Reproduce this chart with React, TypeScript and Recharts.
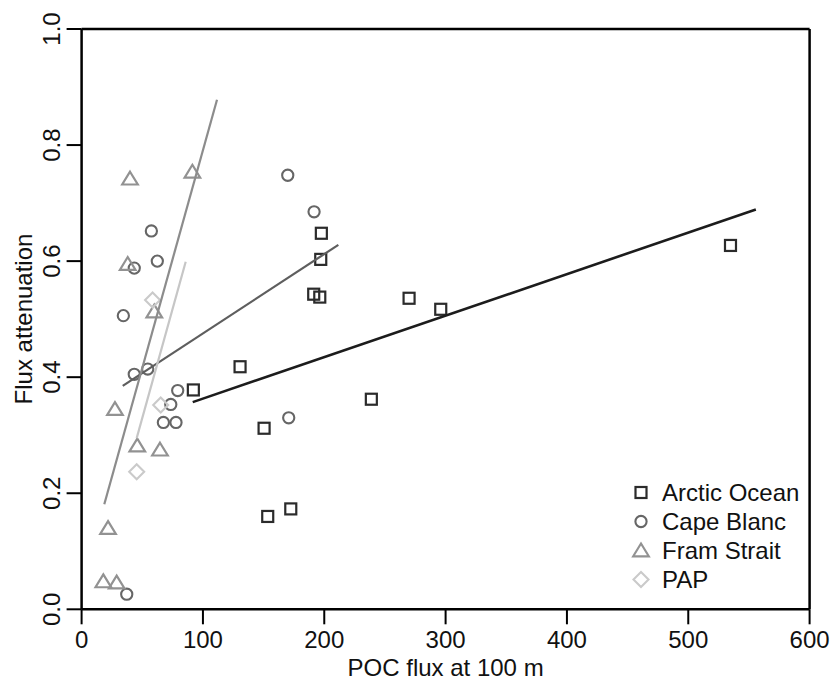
import React from 'react';
import { ScatterChart, Scatter, XAxis, YAxis, ReferenceLine } from 'recharts';

// values
const arcticX = [92.1, 130.6, 150.4, 153.4, 172.4, 197.6, 197.1, 191.3, 196.3, 238.8, 269.9, 296.0, 534.8];
const arcticY = [0.378, 0.418, 0.312, 0.160, 0.173, 0.648, 0.603, 0.543, 0.538, 0.362, 0.536, 0.517, 0.627];

const capeX = [34.4, 43.4, 57.5, 62.4, 43.4, 54.5, 79.2, 73.5, 67.4, 77.8, 170.7, 169.9, 191.6, 37.2];
const capeY = [0.506, 0.588, 0.652, 0.600, 0.405, 0.414, 0.377, 0.353, 0.322, 0.322, 0.330, 0.748, 0.685, 0.026];

const framX = [39.9, 91.3, 38.0, 59.9, 27.5, 45.9, 64.6, 21.8, 17.9, 28.9];
const framY = [0.742, 0.754, 0.595, 0.513, 0.345, 0.282, 0.275, 0.140, 0.048, 0.046];

const papX = [58.5, 65.2, 45.4];
const papY = [0.533, 0.352, 0.237];

// fitted line end points
const arcticFitX = [91.6, 555.7];
const arcticFitY = [0.357, 0.689];
const capeFitX = [33.9, 211.6];
const capeFitY = [0.385, 0.628];
const framFitX = [18.7, 111.6];
const framFitY = [0.181, 0.878];
const papFitX = [45.4, 85.8];
const papFitY = [0.295, 0.599];

const xTicks = [0, 100, 200, 300, 400, 500, 600];
const yTicks = [0, 0.2, 0.4, 0.6, 0.8, 1.0];

const FONT = '"Liberation Sans", Arial, sans-serif';
const toPts = (xs: number[], ys: number[]) => xs.map((x, i) => ({ x, y: ys[i] }));

const C_ARCTIC = '#2b2b2b';
const C_CAPE = '#666666';
const C_FRAM = '#929292';
const C_PAP = '#cacaca';

const Square = ({ cx, cy, color }: any) => (
  <rect x={cx - 5.5} y={cy - 5.5} width={11} height={11} fill="none" stroke={color} strokeWidth={2.2} />
);
const Circ = ({ cx, cy, color }: any) => (
  <circle cx={cx} cy={cy} r={5.6} fill="none" stroke={color} strokeWidth={2.1} />
);
const Tri = ({ cx, cy, color }: any) => (
  <polygon points={`${cx},${cy - 7} ${cx + 7.8},${cy + 5.8} ${cx - 7.8},${cy + 5.8}`} fill="none" stroke={color} strokeWidth={2.2} />
);
const Diam = ({ cx, cy, color }: any) => (
  <polygon points={`${cx},${cy - 7.5} ${cx + 7.5},${cy} ${cx},${cy + 7.5} ${cx - 7.5},${cy}`} fill="none" stroke={color} strokeWidth={2.1} />
);

const series = [
  { name: 'Arctic Ocean', color: C_ARCTIC, Shape: Square },
  { name: 'Cape Blanc', color: C_CAPE, Shape: Circ },
  { name: 'Fram Strait', color: C_FRAM, Shape: Tri },
  { name: 'PAP', color: C_PAP, Shape: Diam },
];

const XTick = (props: any) => {
  const { x, y, payload } = props;
  return (
    <text x={x} y={y} dy={21.7} textAnchor="middle" fontSize={24} fontFamily={FONT} fill="#111">
      {payload.value}
    </text>
  );
};

const YTick = (props: any) => {
  const { x, y, payload } = props;
  const px = x - 5;
  return (
    <text x={px} y={y} transform={`rotate(-90 ${px} ${y})`} textAnchor="middle" fontSize={24} fontFamily={FONT} fill="#111">
      {Number(payload.value).toFixed(1)}
    </text>
  );
};

const noDot = () => <g />;

const Legend4 = () => (
  <div style={{ position: 'absolute', left: 628, top: 478, fontFamily: FONT, fontSize: 24, color: '#111' }}>
    {series.map(({ name, color, Shape }) => (
      <div key={name} style={{ display: 'flex', alignItems: 'center', height: 29, lineHeight: '29px' }}>
        <svg width={26} height={29}>
          <Shape cx={13} cy={14.5} color={color} />
        </svg>
        <span style={{ marginLeft: 8 }}>{name}</span>
      </div>
    ))}
  </div>
);

export default function App() {
  return (
    <div style={{ position: 'absolute', left: 0, top: 0, width: 832, height: 680, background: '#fff' }}>
      <ScatterChart width={832} height={680} margin={{ top: 29, right: 22.4, left: 0, bottom: 10.7 }}>
        <XAxis
          type="number"
          dataKey="x"
          domain={[0, 600]}
          ticks={xTicks}
          allowDataOverflow
          height={60}
          tickSize={15}
          axisLine={{ stroke: '#000', strokeWidth: 2.5 }}
          tickLine={{ stroke: '#000', strokeWidth: 2 }}
          tick={<XTick />}
          label={() => (
            <text x={445.6} y={676} textAnchor="middle" fontSize={24} fontFamily={FONT} fill="#111">
              POC flux at 100 m
            </text>
          )}
        />
        <YAxis
          type="number"
          dataKey="y"
          domain={[0, 1]}
          ticks={yTicks}
          allowDataOverflow
          width={81.6}
          tickSize={15}
          axisLine={{ stroke: '#000', strokeWidth: 2.5 }}
          tickLine={{ stroke: '#000', strokeWidth: 2 }}
          tick={<YTick />}
          label={() => (
            <text x={32} y={319} transform="rotate(-90 32 319)" textAnchor="middle" fontSize={24} fontFamily={FONT} fill="#111">
              Flux attenuation
            </text>
          )}
        />
        <ReferenceLine y={1} stroke="#000" strokeWidth={2.5} />
        <ReferenceLine x={600} stroke="#000" strokeWidth={2.5} />

        <Scatter name="Arctic Ocean" data={toPts(arcticX, arcticY)} isAnimationActive={false}
          shape={(p: any) => <Square cx={p.cx} cy={p.cy} color={C_ARCTIC} />} />
        <Scatter name="Cape Blanc" data={toPts(capeX, capeY)} isAnimationActive={false}
          shape={(p: any) => <Circ cx={p.cx} cy={p.cy} color={C_CAPE} />} />
        <Scatter name="Fram Strait" data={toPts(framX, framY)} isAnimationActive={false}
          shape={(p: any) => <Tri cx={p.cx} cy={p.cy} color={C_FRAM} />} />
        <Scatter name="PAP" data={toPts(papX, papY)} isAnimationActive={false}
          shape={(p: any) => <Diam cx={p.cx} cy={p.cy} color={C_PAP} />} />

        <Scatter data={toPts(arcticFitX, arcticFitY)} line={{ stroke: '#1c1c1c', strokeWidth: 2.6 }} shape={noDot} isAnimationActive={false} />
        <Scatter data={toPts(capeFitX, capeFitY)} line={{ stroke: '#5e5e5e', strokeWidth: 2.2 }} shape={noDot} isAnimationActive={false} />
        <Scatter data={toPts(framFitX, framFitY)} line={{ stroke: '#8c8c8c', strokeWidth: 2.2 }} shape={noDot} isAnimationActive={false} />
        <Scatter data={toPts(papFitX, papFitY)} line={{ stroke: '#c6c6c6', strokeWidth: 2.2 }} shape={noDot} isAnimationActive={false} />
      </ScatterChart>
      <Legend4 />
    </div>
  );
}
